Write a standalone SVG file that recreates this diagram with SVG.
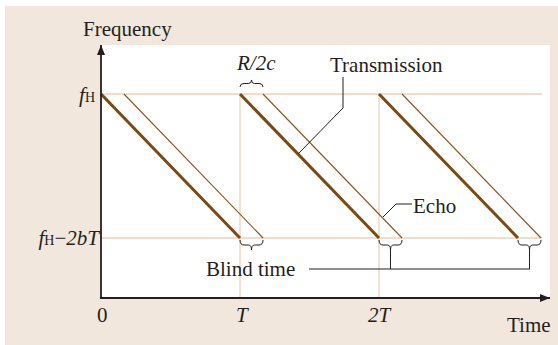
<svg xmlns="http://www.w3.org/2000/svg" width="558" height="345" viewBox="0 0 558 345">
<defs>
<style>
.t{font-family:"Liberation Serif","Times New Roman",serif;font-size:21px;fill:#231f20}
.i{font-style:italic}
.grid{stroke:#efd2b6;stroke-width:1.3;fill:none}
.tx{stroke:#7a4a14;stroke-width:3;fill:none}
.ec{stroke:#8a5a24;stroke-width:1.2;fill:none}
.ax{stroke:#231f20;stroke-width:1.8;fill:none}
.ld{stroke:#231f20;stroke-width:1;fill:none}
.br{stroke:#231f20;stroke-width:1;fill:none}
</style>
<marker id="ah" markerWidth="10" markerHeight="8" refX="10" refY="4" orient="auto" markerUnits="userSpaceOnUse">
<path d="M0,0 L10,4 L0,8 Z" fill="#231f20"/>
</marker>
</defs>
<rect x="5" y="6" width="553" height="339" fill="#f2e7dd"/>
<rect x="101" y="45" width="449" height="253" fill="#ffffff"/>

<g id="grid">
<line class="grid" x1="101" y1="94" x2="542" y2="94"/>
<line class="grid" x1="101" y1="238" x2="542" y2="238"/>
<line class="grid" x1="240" y1="94" x2="240" y2="298"/>
<line class="grid" x1="379" y1="94" x2="379" y2="298"/>
</g>

<g id="transmission-lines">
<line class="tx" x1="101" y1="94" x2="240" y2="238"/>
<line class="tx" x1="240" y1="94" x2="379" y2="238"/>
<line class="tx" x1="379" y1="94" x2="518" y2="238"/>
</g>
<g id="echo-lines">
<line class="ec" x1="124" y1="94" x2="263" y2="238"/>
<line class="ec" x1="263" y1="94" x2="402" y2="238"/>
<line class="ec" x1="402" y1="94" x2="541" y2="238"/>
</g>

<g id="axes">
<line class="ax" x1="101" y1="298" x2="101" y2="45" marker-end="url(#ah)"/>
<line class="ax" x1="100" y1="298" x2="550" y2="298" marker-end="url(#ah)"/>
</g>

<g id="braces">
<path class="br" d="M240,87 Q240,83.5 244,83.5 L248.5,83.5 Q251.5,83.5 251.5,80 Q251.5,83.5 254.5,83.5 L259,83.5 Q263,83.5 263,87"/>
<path class="br" d="M240,240 Q240,245 244,245 L248.5,245 Q251.5,245 251.5,250 Q251.5,245 254.5,245 L259,245 Q263,245 263,240"/>
<path class="br" d="M379,240 Q379,245 383,245 L387.5,245 Q390.5,245 390.5,250 Q390.5,245 393.5,245 L398,245 Q402,245 402,240"/>
<path class="br" d="M518,240 Q518,245 522,245 L526.5,245 Q529.5,245 529.5,250 Q529.5,245 532.5,245 L537,245 Q541,245 541,240"/>
</g>

<g id="connectors">
<polyline class="ld" points="343,77 343,108 298,154"/>
<polyline class="ld" points="383,217 396,204 412,204"/>
<polyline class="ld" points="309,269 530,269"/>
<line class="ld" x1="390.5" y1="250" x2="390.5" y2="269"/>
<line class="ld" x1="529.5" y1="250" x2="529.5" y2="269"/>
</g>

<g id="labels">
<text class="t" x="83" y="36">Frequency</text>
<text class="t" x="330" y="72">Transmission</text>
<text class="t" x="413" y="213">Echo</text>
<text class="t" x="206" y="276">Blind time</text>
<text class="t" x="507" y="332">Time</text>
<text class="t" x="97" y="322">0</text>
<text class="t i" x="236" y="322">T</text>
<text class="t i" x="368" y="322">2T</text>
<text class="t i" x="237" y="70">R/2c</text>
<text class="t" x="95" y="102" text-anchor="end"><tspan class="i">f</tspan><tspan font-size="14">H</tspan></text>
<text class="t" x="99" y="245" text-anchor="end"><tspan class="i">f</tspan><tspan font-size="14">H</tspan><tspan>−</tspan><tspan class="i">2bT</tspan></text>
</g>
</svg>
